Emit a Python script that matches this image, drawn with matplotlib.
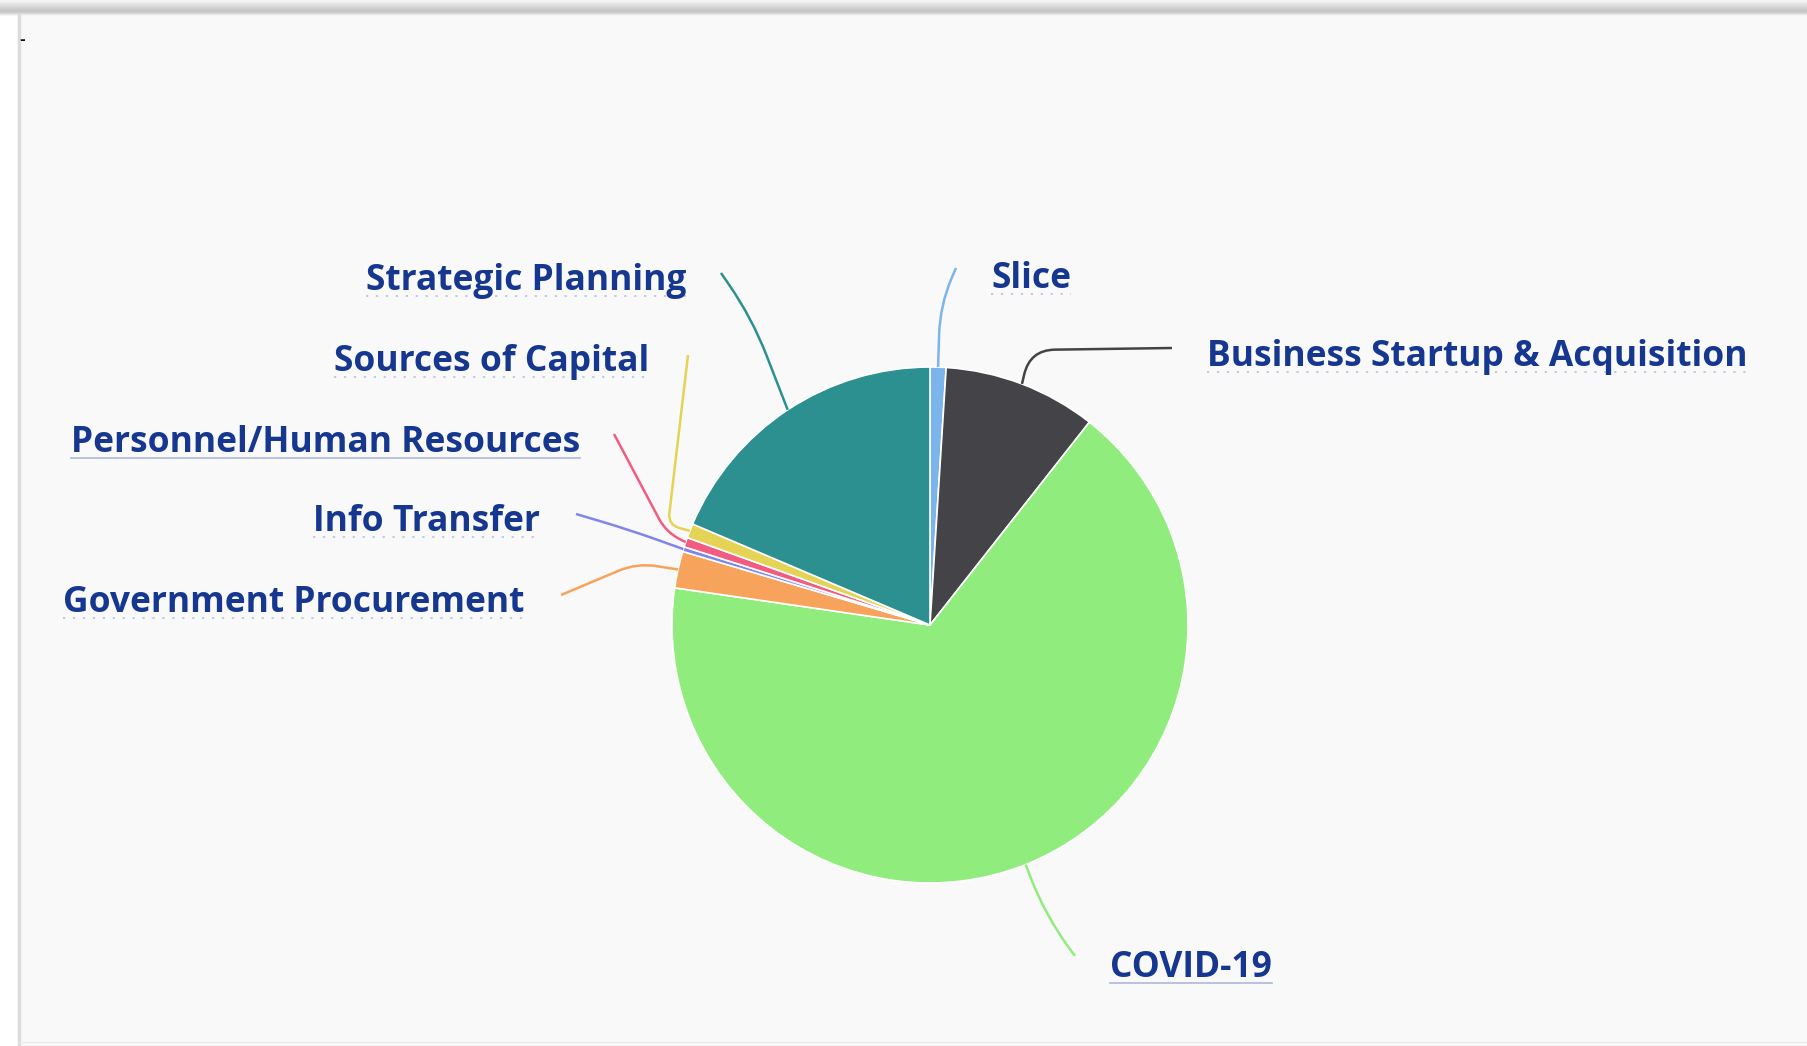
import numpy as np
import matplotlib.pyplot as plt
from matplotlib.path import Path
from matplotlib.patches import PathPatch, Rectangle

# -------------------------- DATA --------------------------
labels = ['Slice', 'Business Startup & Acquisition', 'COVID-19',
          'Government Procurement', 'Info Transfer',
          'Personnel/Human Resources', 'Sources of Capital',
          'Strategic Planning']
shares = [1.0, 9.6, 66.7, 2.3, 0.3, 0.6, 0.9, 18.6]
colors = ['#7cb5ec', '#434348', '#90ed7d', '#f7a35c',
          '#8085e9', '#f15c80', '#e4d354', '#2b908f']

# -------------------------- LAYOUT (pixels, y from top) --------------------------
W, H = 1807, 1046
cx, cy, r = 930, 625, 258
# text x, baseline y, alignment, connector start, connector bend, bend radius
label_layout = {
    'Slice':                          (991, 288, 'left',  (956, 268), (940, 305), 30),
    'Business Startup & Acquisition': (1207, 366, 'left', (1172, 348), (1030, 350), 25),
    'COVID-19':                       (1110, 977, 'left', (1075, 956), (1045, 915), 40),
    'Government Procurement':         (524, 612, 'right', (561, 595), (637, 563), 20),
    'Info Transfer':                  (540, 531, 'right', (576, 514), (630, 530), 30),
    'Personnel/Human Resources':      (580, 452, 'right', (614, 434), (666, 532), 15),
    'Sources of Capital':             (649, 371, 'right', (688, 355), (668, 525), 12),
    'Strategic Planning':             (686, 290, 'right', (721, 273), (752, 318), 40),
}
text_color = '#163790'


def fy(y):
    return H - y


fig = plt.figure(figsize=(W / 100, H / 100), dpi=100)
fig.patch.set_facecolor('#ffffff')
ax = fig.add_axes([0, 0, 1, 1])

# panel background, top shadow, left border
ax.add_patch(Rectangle((20, 0), W - 20, H - 15, facecolor='#f9f9f9',
                       edgecolor='none', zorder=0))
shade = np.array([0.96, 0.95, 0.93, 0.91, 0.89, 0.87, 0.85, 0.83, 0.81,
                  0.79, 0.78, 0.78, 0.80, 0.85, 0.91, 0.96])[:, None]
ax.imshow(np.repeat(shade, 4, axis=1), cmap='gray', vmin=0, vmax=1,
          extent=[0, W, H - 16, H], aspect='auto', interpolation='bilinear',
          zorder=1)
ax.plot([19, 19], [0, fy(15)], color='#dcdcdc', lw=2.5, zorder=1)
ax.plot([20, W], [fy(1042), fy(1042)], color='#ececec', lw=1, zorder=1)
ax.text(22, fy(40), '-', fontsize=10, fontweight='bold', color='#111111',
        ha='center', va='center')

wedges, _ = ax.pie(shares, colors=colors, startangle=90, counterclock=False,
                   center=(cx, fy(cy)), radius=r, frame=True,
                   wedgeprops=dict(edgecolor='white', linewidth=1.2))

ax.set_xlim(0, W)
ax.set_ylim(0, H)
ax.set_aspect('auto')
ax.axis('off')

texts = []
for w, name in zip(wedges, labels):
    tx, ty, ha, L, C, rr = label_layout[name]
    mid = np.deg2rad((w.theta1 + w.theta2) / 2)
    E = np.array([cx + r * np.cos(mid), fy(cy) + r * np.sin(mid)])
    L = np.array([L[0], fy(L[1])])
    C = np.array([C[0], fy(C[1])])
    d1 = (L - C) / np.linalg.norm(L - C)
    d2 = (E - C) / np.linalg.norm(E - C)
    P1, P2 = C + d1 * rr, C + d2 * rr
    path = Path([L, P1, C, P2, E],
                [Path.MOVETO, Path.LINETO, Path.CURVE3, Path.CURVE3, Path.LINETO])
    ax.add_patch(PathPatch(path, facecolor='none', edgecolor=w.get_facecolor(),
                           lw=1.8, zorder=3))
    t = ax.text(tx, fy(ty), name, ha=ha, va='baseline', fontsize=25.5,
                fontweight='bold', family=['Open Sans', 'DejaVu Sans'],
                color=text_color, zorder=4)
    texts.append((t, name))

fig.canvas.draw()
renderer = fig.canvas.get_renderer()
for t, name in texts:
    bb = t.get_window_extent(renderer)
    y0 = t.get_position()[1] - 6
    solid = name in ('Personnel/Human Resources', 'COVID-19')
    ax.plot([bb.x0, bb.x1], [y0, y0], color='#b3bedb',
            lw=1.3 if solid else 1.1,
            ls='-' if solid else (0, (1.5, 5)), zorder=3)

fig.savefig('out.png', dpi=100, facecolor=fig.get_facecolor())
